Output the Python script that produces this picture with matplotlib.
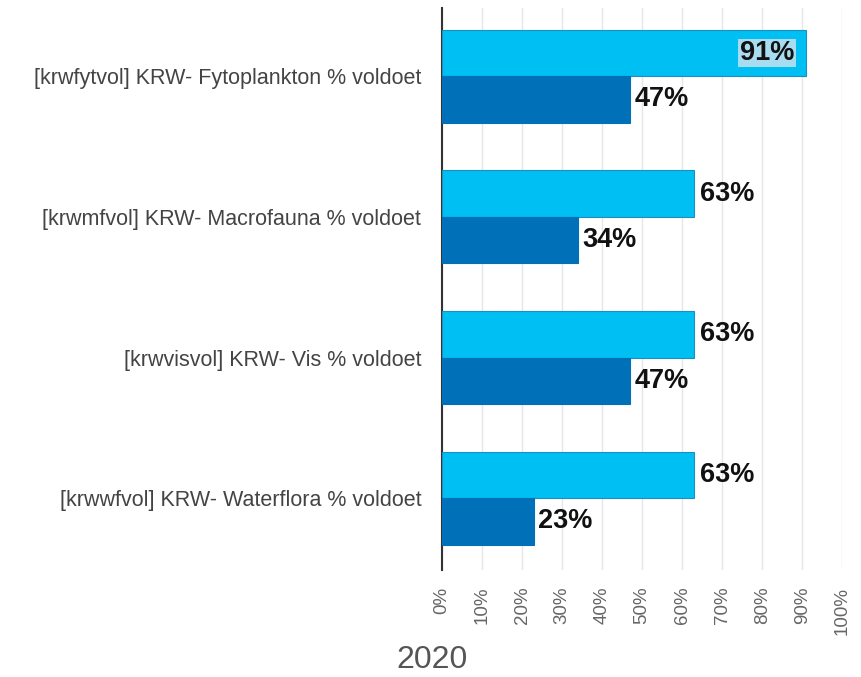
import matplotlib
matplotlib.use('Agg')
import matplotlib.pyplot as plt
import matplotlib.ticker as mtick
import numpy as np

plt.rcParams['font.family'] = ['Liberation Sans', 'DejaVu Sans']

# Data
categories = ['[krwfytvol] KRW- Fytoplankton % voldoet',
              '[krwmfvol] KRW- Macrofauna % voldoet',
              '[krwvisvol] KRW- Vis % voldoet',
              '[krwwfvol] KRW- Waterflora % voldoet']
light_vals = [91, 63, 63, 63]
dark_vals = [47, 34, 47, 23]
year_label = '2020'

light_col = '#00BFF3'
dark_col = '#0070B8'

fig = plt.figure(figsize=(8.62, 6.77), dpi=100, facecolor='w')
ax = fig.add_axes([0.513, 0.158, 0.464, 0.830])

y = np.arange(len(categories))
h = 0.33
ax.barh(y - h / 2, light_vals, height=h, color=light_col, edgecolor='#1a8fc0', linewidth=0.8, zorder=3)
ax.barh(y + h / 2, dark_vals, height=h, color=dark_col, edgecolor=dark_col, linewidth=0.8, zorder=3)

# value labels
lab_kw = dict(va='center', fontsize=19.5, fontweight='bold', color='#111111', zorder=4)
for yi, v in zip(y, light_vals):
    if v > 85:
        ax.text(v - 3, yi - h / 2, '%d%%' % v, ha='right',
                bbox=dict(boxstyle='square,pad=0.05', fc='#a8dcf0', ec='none'), **lab_kw)
    else:
        ax.text(v + 1.5, yi - h / 2, '%d%%' % v, ha='left', **lab_kw)
for yi, v in zip(y, dark_vals):
    ax.text(v + 1, yi + h / 2, '%d%%' % v, ha='left', **lab_kw)

ax.set_xlim(0, 100)
ax.set_ylim(3.51, -0.483)
ax.set_yticks(y)
ax.set_yticklabels(categories, fontsize=15.5, color='#444444')
ax.set_xticks(np.arange(0, 101, 10))
ax.xaxis.set_major_formatter(mtick.PercentFormatter(decimals=0))
for lab in ax.get_xticklabels():
    lab.set_rotation(90)
    lab.set_fontsize(13.5)
    lab.set_color('#666666')
ax.tick_params(axis='y', length=0, pad=15)
ax.tick_params(axis='x', length=0, pad=12)
ax.grid(axis='x', color='#e6e6e6', linewidth=1, zorder=0)
for s in ['top', 'right', 'bottom']:
    ax.spines[s].set_visible(False)
ax.spines['left'].set_color('#333333')
ax.spines['left'].set_linewidth(1.5)

fig.text(432 / 862, 1 - 660 / 677, year_label, ha='center', va='center',
         fontsize=23, color='#555555')

fig.savefig('out.png', dpi=100)
